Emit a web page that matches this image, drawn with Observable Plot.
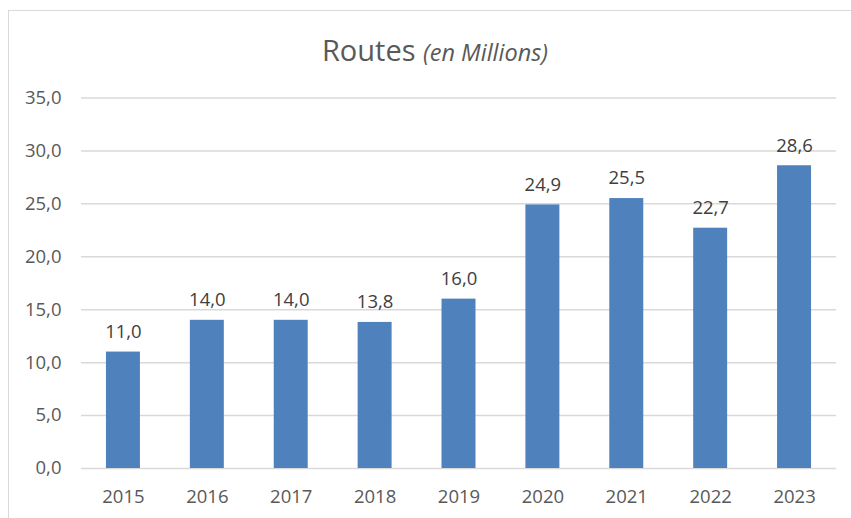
<!DOCTYPE html>
<html>
<head>
<meta charset="utf-8">
<script src="https://cdn.jsdelivr.net/npm/d3@7"></script>
<script src="https://cdn.jsdelivr.net/npm/@observablehq/plot@0.6"></script>
<style>
  html, body { margin: 0; padding: 0; background: #fff; overflow: hidden; }
  #frame {
    position: absolute; left: 8px; top: 10px; width: 900px; height: 600px;
    border: 1px solid #d9d9d9; box-sizing: border-box;
  }
  #title {
    padding-top: 18px; height: 41px; line-height: 41px; width: 852px;
    text-align: center; font-family: "Open Sans", sans-serif; font-size: 29px;
    font-weight: 400; color: #595959;
  }
  #title i { font-size: 23.5px; }
  #chart svg { display: block; }
</style>
</head>
<body>
<div id="frame">
  <div id="title">Routes <i>(en Millions)</i></div>
  <div id="chart"></div>
</div>
<script>
const years = ["2015", "2016", "2017", "2018", "2019", "2020", "2021", "2022", "2023"];
const values = [11.0, 14.0, 14.0, 13.8, 16.0, 24.9, 25.5, 22.7, 28.6];
const yTicks = [0, 5, 10, 15, 20, 25, 30, 35];

const data = years.map((year, i) => ({year, value: values[i]}));
const locale = d3.formatLocale({decimal: ",", thousands: " ", grouping: [3], currency: ["", " €"]});
const fmt = locale.format(".1f");

const chart = Plot.plot({
  width: 842,
  height: 448,
  marginLeft: 72,
  marginRight: 15,
  marginTop: 27.5,
  marginBottom: 50,
  style: {fontFamily: "'Open Sans', sans-serif", fontSize: "18px", color: "#595959", background: "white"},
  x: {domain: years, paddingInner: 0.595, paddingOuter: 0.2975, round: false, label: null},
  y: {domain: [0, 35], label: null},
  marks: [
    Plot.ruleY(yTicks, {stroke: "#d9d9d9", strokeWidth: 1.5}),
    Plot.barY(data, {x: "year", y: "value", fill: "#4F81BD"}),
    Plot.text(data, {x: "year", y: "value", text: d => fmt(d.value), dy: -20, fill: "#404040", fontSize: 18.5}),
    Plot.axisY({ticks: yTicks, tickFormat: fmt, tickSize: 0, tickPadding: 20, fill: "#595959", fontSize: 18.5, label: null}),
    Plot.axisX({tickSize: 0, tickPadding: 21, fill: "#595959", fontSize: 18.5, label: null})
  ]
});
document.getElementById("chart").appendChild(chart);
</script>
</body>
</html>
